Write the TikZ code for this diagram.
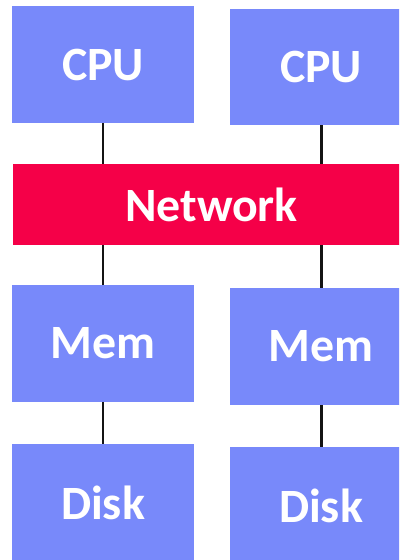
\documentclass[tikz,border=0pt]{standalone}
\usepackage{fontspec}
\setmainfont{Carlito}
\definecolor{unitblue}{RGB}{120,137,250}
\definecolor{netred}{RGB}{245,0,72}
\newcommand\unittextstyle{\fontsize{48}{52}\selectfont\bfseries}
\newcommand\unitwidth{182}
\newcommand\unitheight{117}
\tikzset{
  unit/.style={fill=unitblue, text=white, inner sep=0pt,
    minimum width=\unitwidth, minimum height=\unitheight, font=\unittextstyle},
  netbox/.style={fill=netred, text=white, inner sep=0pt,
    minimum width=399, minimum height=81, font=\unittextstyle},
  wire/.style={line width=3pt, draw=black!92}
}

\begin{document}
\begin{tikzpicture}[x=1bp, y=-1bp]
    \clip (0, 0) rectangle (399, 560) ;
    \useasboundingbox (0, 0) rectangle (399, 560) ;
    % left column
    \node[unit] (cpul) at (103, 64.5) {CPU} ;
    \node[unit] (meml) at (103, 343.5) {Mem} ;
    \node[unit] (diskl) at (103, 502.5) {Disk} ;
    % right column
    \node[unit] (cpur) at (321, 67) {CPU} ;
    \node[unit] (memr) at (321, 346.5) {Mem} ;
    \node[unit] (diskr) at (321, 505.5) {Disk} ;
    % shared network
    \node[netbox] (net) at (211.5, 204.5) {Network} ;
    \draw[wire] (cpul.south) -- (cpul.south |- net.north) ;
    \draw[wire] (net.south -| meml.north) -- (meml.north) ;
    \draw[wire] (meml.south) -- (diskl.north) ;
    \draw[wire] (cpur.south) -- (cpur.south |- net.north) ;
    \draw[wire] (net.south -| memr.north) -- (memr.north) ;
    \draw[wire] (memr.south) -- (diskr.north) ;
\end{tikzpicture}
\end{document}
